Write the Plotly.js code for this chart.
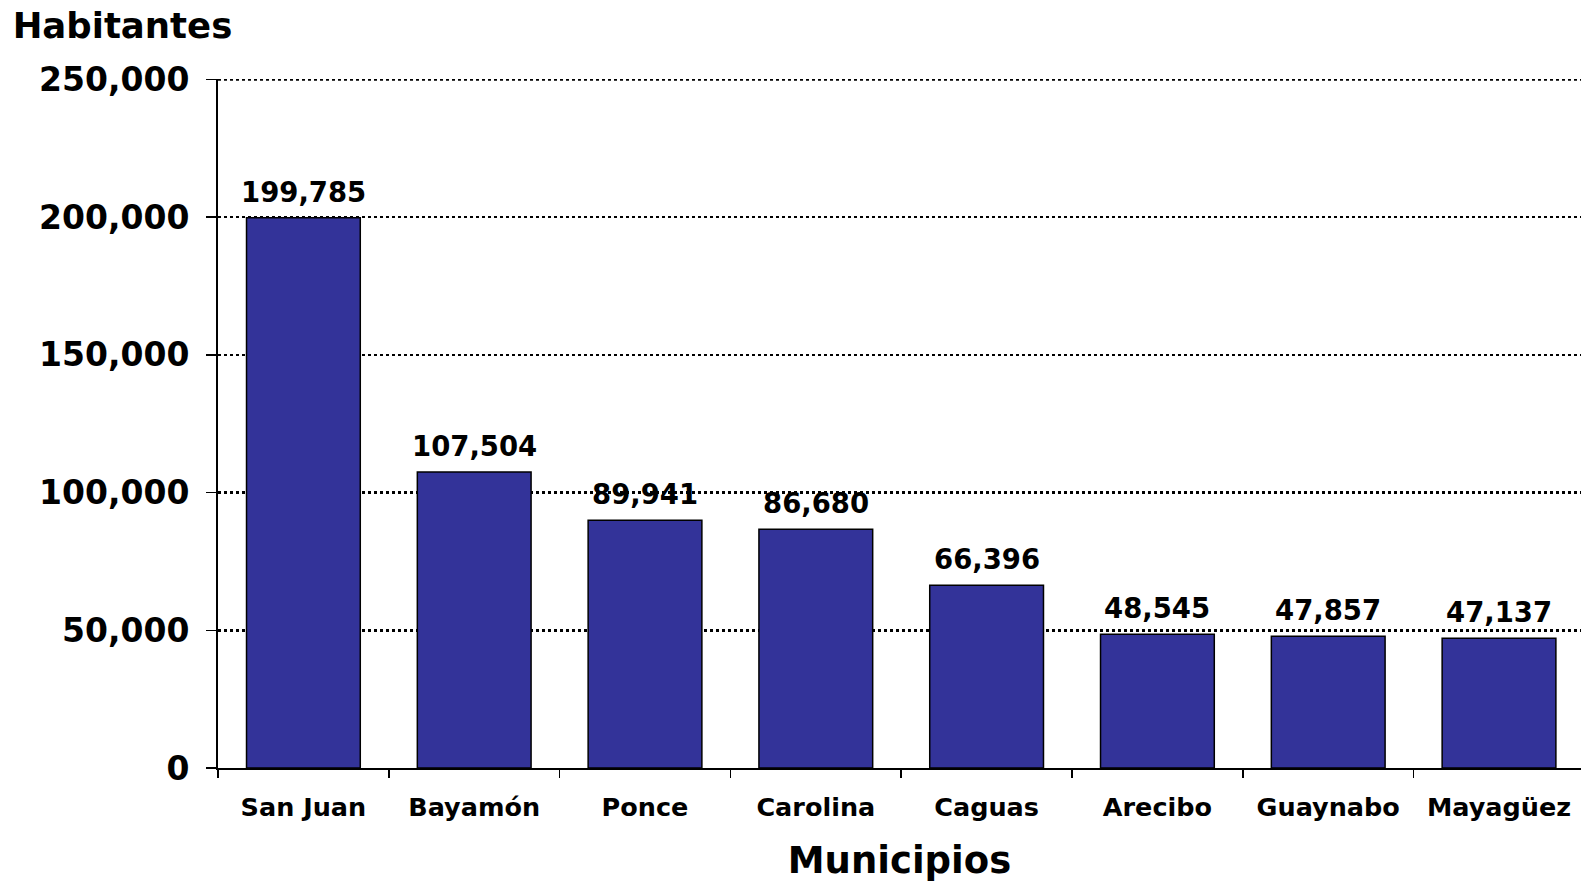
<!DOCTYPE html>
<html>
<head>
<meta charset="utf-8">
<script src="https://cdn.plot.ly/plotly-3.0.1.min.js"></script>
<style>
  html, body { margin: 0; padding: 0; background: #ffffff; }
  #chart { width: 1581px; height: 882px; }
</style>
</head>
<body>
<div id="chart"></div>
<script>
const municipios = ["San Juan", "Bayamón", "Ponce", "Carolina", "Caguas", "Arecibo", "Guaynabo", "Mayagüez"];
const habitantes = [199785, 107504, 89941, 86680, 66396, 48545, 47857, 47137];
const yTickValues = [0, 50000, 100000, 150000, 200000, 250000];
const yTickLabels = ["0", "50,000", "100,000", "150,000", "200,000", "250,000"];

const FONT = "'DejaVu Sans', Verdana, sans-serif";
const fmt = v => v.toString().replace(/\B(?=(\d{3})+(?!\d))/g, ",");

const trace = {
  type: "bar",
  x: municipios,
  y: habitantes,
  marker: { color: "#333399", line: { color: "#000000", width: 1.5 } },
  hoverinfo: "skip"
};

const labels = municipios.map((m, i) => ({
  x: m,
  y: habitantes[i],
  xref: "x",
  yref: "y",
  text: "<b>" + fmt(habitantes[i]) + "</b>",
  showarrow: false,
  xanchor: "center",
  yanchor: "bottom",
  yshift: 8,
  font: { family: FONT, size: 27.5, color: "#000000" }
}));

const yMax = yTickValues[yTickValues.length - 1];
const topGrid = {
  type: "line",
  xref: "paper", yref: "y",
  x0: 0, x1: 1, y0: yMax, y1: yMax,
  layer: "below",
  line: { color: "#000000", width: 2.5, dash: "dot" }
};

const layout = {
  width: 1581,
  height: 882,
  margin: { l: 218, r: 0, t: 79, b: 114, pad: 0 },
  paper_bgcolor: "#ffffff",
  plot_bgcolor: "#ffffff",
  showlegend: false,
  bargap: 0.334,
  font: { family: FONT, color: "#000000" },
  title: {
    text: "<b>Habitantes</b>",
    font: { family: FONT, size: 35.5, color: "#000000" },
    xref: "container", yref: "container",
    x: 0.008, xanchor: "left",
    y: 0.971, yanchor: "middle"
  },
  xaxis: {
    type: "category",
    range: [-0.5, 7.48],
    showgrid: false,
    zeroline: false,
    showline: true,
    linecolor: "#000000",
    linewidth: 2,
    ticks: "outside",
    tickson: "boundaries",
    ticklen: 8,
    tickwidth: 1.5,
    tickcolor: "#000000",
    ticklabelstandoff: 15,
    tickfont: { family: FONT, size: 25.5, color: "#000000", weight: "bold" },
    title: {
      text: "<b>Municipios</b>",
      font: { family: FONT, size: 37, color: "#000000" },
      standoff: 28
    },
    fixedrange: true
  },
  yaxis: {
    range: [0, 250200],
    tickvals: yTickValues,
    ticktext: yTickLabels,
    showgrid: true,
    gridcolor: "#000000",
    gridwidth: 2.5,
    griddash: "dot",
    zeroline: false,
    showline: true,
    linecolor: "#000000",
    linewidth: 2,
    ticks: "outside",
    ticklen: 10,
    tickwidth: 1.5,
    tickcolor: "#000000",
    ticklabelstandoff: 10,
    tickfont: { family: FONT, size: 33, color: "#000000", weight: "bold" },
    fixedrange: true
  },
  shapes: [topGrid],
  annotations: labels
};

Plotly.newPlot("chart", [trace], layout, { displayModeBar: false, staticPlot: true });
</script>
</body>
</html>
